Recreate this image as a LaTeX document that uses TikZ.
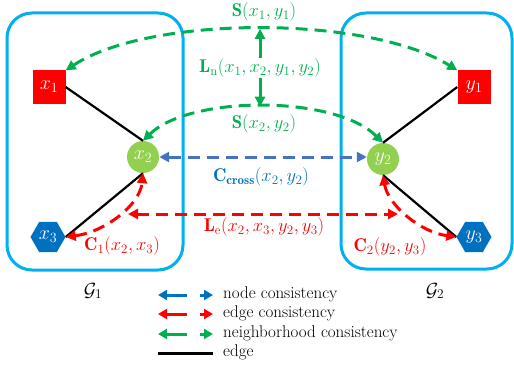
\RequirePackage{fix-cm}
\documentclass[tikz,border=0pt]{standalone}
\usepackage{fontspec}
\usetikzlibrary{arrows.meta,shapes.geometric}
\definecolor{grn}{RGB}{0,176,80}
\definecolor{rd}{RGB}{255,0,0}
\definecolor{bdash}{RGB}{68,114,196}
\definecolor{btext}{RGB}{0,112,192}
\definecolor{lgrn}{RGB}{146,208,80}
\definecolor{boxc}{RGB}{0,176,240}
\begin{document}
\begin{tikzpicture}[x=1pt,y=-1pt,
  gbox/.style={draw=boxc,line width=3pt,rounded corners=25pt},
  sq/.style={rectangle,fill=rd,minimum size=33pt,inner sep=0pt,text=white,font=\fontsize{20}{22}\selectfont},
  circ/.style={circle,fill=lgrn,minimum size=32pt,inner sep=0pt,text=white,font=\fontsize{20}{22}\selectfont},
  hexa/.style={regular polygon,regular polygon sides=6,fill=btext,minimum size=35pt,inner sep=0pt,text=white,font=\fontsize{20}{22}\selectfont},
  darr/.style={line width=3pt,dash pattern=on 12pt off 7pt,{Triangle[length=10pt,width=10pt]}-{Triangle[length=10pt,width=10pt]}},
  sarr/.style={line width=3pt,-{Triangle[length=10pt,width=10pt]}},
  edge/.style={line width=2.2pt,black},
  lbl/.style={font=\fontsize{18.5}{20}\selectfont,inner sep=1pt},
  leg/.style={font=\fontsize{17}{18}\selectfont,anchor=west,inner sep=0pt},
  legarr/.style={line width=3pt,dash pattern=on 21pt off 13pt on 21pt,{Triangle[length=9pt,width=10pt]}-{Triangle[length=9pt,width=10pt]}}
]
\useasboundingbox (0,0) rectangle (514,369);
% boxes
\draw[gbox] (7,13) rectangle (183,270);
\draw[gbox] (341,13) rectangle (512,269);
% nodes
\node[sq] (x1) at (49,87) {$x_1$};
\node[circ] (x2) at (143,157) {$x_2$};
\node[hexa] (x3) at (48,237) {$x_3$};
\node[sq] (y1) at (474,87) {$y_1$};
\node[circ] (y2) at (383,159) {$y_2$};
\node[hexa] (y3) at (474,237) {$y_3$};
% black edges
\draw[edge] (x1.east) -- (x2.north);
\draw[edge] (x3.east) -- (x2.south);
\draw[edge] (y1.west) -- (y2.north);
\draw[edge] (y2.south) -- (y3.west);
% labels
\node[lbl,text=grn] (s1) at (264,12) {$\mathbf{S}(x_1,y_1)$};
\node[lbl,text=grn] (ln) at (260,68) {$\mathbf{L}_{\mathrm{n}}(x_1,x_2,y_1,y_2)$};
\node[lbl,text=grn] (s2) at (264,124) {$\mathbf{S}(x_2,y_2)$};
\node[lbl,text=btext] (cc) at (261,177) {$\mathbf{C}_{\mathbf{cross}}(x_2,y_2)$};
\node[lbl,text=rd] (le) at (264,227) {$\mathbf{L}_{\mathrm{e}}(x_2,x_3,y_2,y_3)$};
\node[lbl,text=rd] (c1) at (122,246) {$\mathbf{C}_1(x_2,x_3)$};
\node[lbl,text=rd] (c2) at (390,247) {$\mathbf{C}_2(y_2,y_3)$};
\node[font=\fontsize{19}{20}\selectfont] (g1) at (93,291) {$\mathcal{G}_1$};
\node[font=\fontsize{19}{20}\selectfont] (g2) at (435,291) {$\mathcal{G}_2$};
% green arcs
\draw[darr,grn] (x1.north east) .. controls (150,15) and (368,15) .. coordinate[pos=0.5] (s1m) (y1.north west);
\draw[darr,grn] (x2.north) .. controls (190,95) and (335,95) .. coordinate[pos=0.5] (s2m) (y2.north);
\draw[sarr,grn] (ln.north) -- (ln.north |- s1m);
\draw[sarr,grn] (ln.south) -- (ln.south |- s2m);
% blue
\draw[darr,bdash] (x2.east) -- (y2.west |- x2.east);
% red
\draw[darr,rd] (x3.east) .. controls (105,232) and (140,205) .. (x2.south);
\draw[darr,rd] (y2.south) .. controls (388,205) and (420,232) .. (y3.west);
\coordinate (le1) at (128,214);
\coordinate (le2) at (398,214);
\draw[darr,rd] (le1) -- (le2);
% legend
\coordinate (la1) at (158,295); \coordinate (lb1) at (213,295);
\coordinate (la2) at (158,314); \coordinate (lb2) at (213,314);
\coordinate (la3) at (158,334); \coordinate (lb3) at (213,334);
\coordinate (la4) at (158,353); \coordinate (lb4) at (213,353);
\draw[legarr,btext] (la1) -- (lb1);
\draw[legarr,rd] (la2) -- (lb2);
\draw[legarr,grn] (la3) -- (lb3);
\draw[line width=3pt,black] (la4) -- (lb4);
\node[leg] (t1) at (223,294) {node consistency};
\node[leg] (t2) at (223,313) {edge consistency};
\node[leg] (t3) at (223,333) {neighborhood consistency};
\node[leg] (t4) at (223,352) {edge};
\end{tikzpicture}
\end{document}
